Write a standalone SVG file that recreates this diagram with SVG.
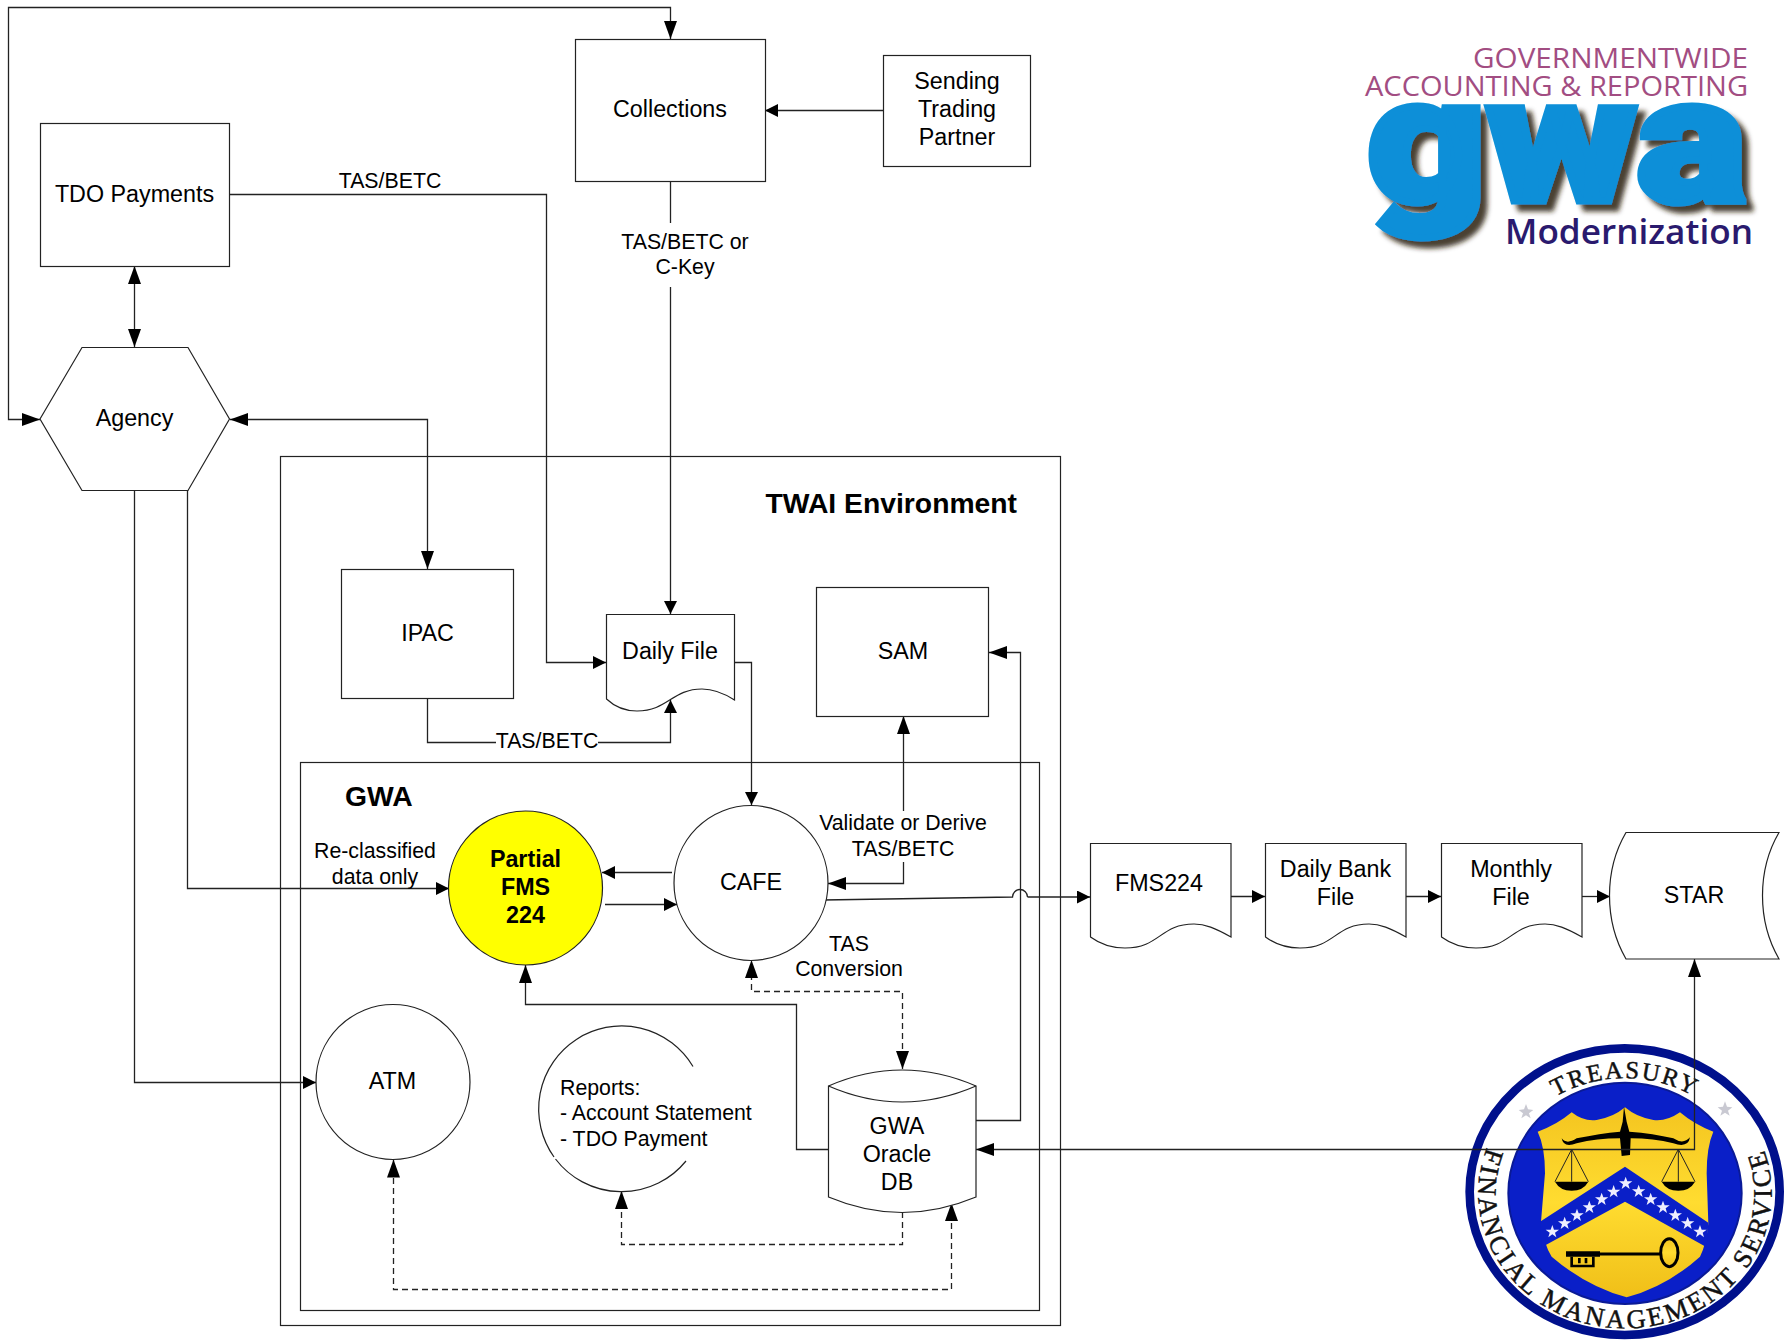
<svg xmlns="http://www.w3.org/2000/svg" xmlns:xlink="http://www.w3.org/1999/xlink" width="1785" height="1340" viewBox="0 0 1785 1340">
<style>
text{font-family:"Liberation Sans",Arial,sans-serif;fill:#000}
.n{font-size:23.300px;text-anchor:middle}
.e{font-size:21.300px;text-anchor:middle}
.s{font-size:21.300px}
.b{font-weight:bold}
.shape{fill:#fff;stroke:#222;stroke-width:1.2}
.none{fill:none}
.c{fill:none;stroke:#222;stroke-width:1.3}
.d{fill:none;stroke:#222;stroke-width:1.3;stroke-dasharray:6 4}
.big{marker-end:url(#ab)}
.small{marker-end:url(#as)}
.seal text{font-family:"Liberation Serif","Times New Roman",serif;fill:#111;stroke:#111;stroke-width:1.4}
</style>
<defs>
<marker id="ab" markerUnits="userSpaceOnUse" markerWidth="19" markerHeight="14" refX="18" refY="6.5" orient="auto-start-reverse"><path d="M0,0L18,6.5L0,13Z" fill="#000"/></marker>
<marker id="as" markerUnits="userSpaceOnUse" markerWidth="14" markerHeight="14" refX="13" refY="6.5" orient="auto-start-reverse"><path d="M0,0L13,6.5L0,13Z" fill="#000"/></marker>
<filter id="sh" x="-10%" y="-10%" width="125%" height="125%"><feDropShadow dx="7" dy="7" stdDeviation="2.500" flood-color="#2a1a10" flood-opacity=".85"/></filter>
<linearGradient id="gold" x1="0" y1="0" x2="0" y2="1"><stop offset="0" stop-color="#f4c520"/><stop offset=".5" stop-color="#ffdc30"/><stop offset="1" stop-color="#f0bf18"/></linearGradient>
<polygon id="st" points="0,-20 5,-6 20,-6 8,3 12,17 0,8 -12,17 -8,3 -20,-6 -5,-6" fill="#eef"/>
<path id="treasuryArc" d="M170,490 A385,345 0 0 1 940,490"/>
<path id="fmsArc" d="M166.400,300 A440,405 0 1 0 943.600,300"/>
</defs>
<rect width="1785" height="1340" fill="#fff"/>

<g id="logo">
<text x="1473" y="68" font-size="28" textLength="275" lengthAdjust="spacingAndGlyphs" style="font-family:'Open Sans',sans-serif;fill:#a24d82">GOVERNMENTWIDE</text>
<text x="1365" y="96" font-size="28" textLength="383" lengthAdjust="spacingAndGlyphs" style="font-family:'Open Sans',sans-serif;fill:#a24d82">ACCOUNTING &amp; REPORTING</text>
<text x="1367" y="201" font-size="176" font-weight="900" textLength="380" lengthAdjust="spacingAndGlyphs" filter="url(#sh)" stroke="#0a8fd8" stroke-width="7" style="font-family:Roboto,sans-serif;fill:#0a8fd8">gwa</text>
<text x="1505" y="244" font-size="35" textLength="248" lengthAdjust="spacingAndGlyphs" style="font-family:'Open Sans',sans-serif;fill:#2a1a6e;font-weight:600">Modernization</text>
</g>

<g id="seal" class="seal" transform="translate(1440,1030) scale(.33333)">
<ellipse cx="554" cy="485" rx="465" ry="430" fill="#fff" stroke="#00108c" stroke-width="26"/>
<ellipse cx="555" cy="490" rx="350" ry="332" fill="#0a1fc8" stroke="#0a1a96" stroke-width="6"/>
<path d="M293,305 Q350,285 395,247 Q430,275 470,270 Q520,262 555,232 Q590,262 640,270 Q680,275 720,247 Q765,285 820,305 Q800,350 800,430 L805,580 Q800,640 780,680 Q680,770 560,802 Q440,770 335,680 Q310,640 303,575 L315,430 Q315,350 293,305Z" fill="url(#gold)"/>
<path d="M555,410 L805,578 L800,652 L555,515 L305,652 L300,575Z" fill="#0a1fc8"/>
<path d="M365,325 Q380,345 410,325 Q480,310 540,305 L548,275 L552,230 L560,275 L568,305 Q640,310 700,325 Q730,345 750,322 Q745,355 700,340 Q640,325 572,325 L570,375 L545,378 L540,325 Q470,325 410,340 Q370,355 365,325Z" fill="#000"/>
<g fill="none" stroke="#222" stroke-width="3"><path d="M395,358 L345,455 M395,358 L395,455 M395,358 L445,455"/><path d="M715,358 L665,455 M715,358 L715,455 M715,358 L765,455"/></g>
<path d="M345,455 L445,455 Q430,482 395,482 Q360,482 345,455Z M665,455 L765,455 Q750,482 715,482 Q680,482 665,455Z" fill="#000"/>
<g fill="none" stroke="#000"><path d="M470,672 L660,672" stroke-width="9"/><ellipse cx="688" cy="668" rx="26" ry="42" stroke-width="9" fill="url(#gold)"/><path d="M378,672 L480,672" stroke-width="16"/><path d="M395,680 V708 H460 V680 M418,684 V700 M438,684 V700" stroke-width="8"/></g>
<use href="#st" x="337" y="605"/><use href="#st" x="374" y="580"/><use href="#st" x="411" y="556"/><use href="#st" x="448" y="532"/><use href="#st" x="485" y="508"/><use href="#st" x="521" y="485"/><use href="#st" x="557" y="460"/><use href="#st" x="596" y="484"/><use href="#st" x="632" y="508"/><use href="#st" x="669" y="532"/><use href="#st" x="706" y="556"/><use href="#st" x="743" y="580"/><use href="#st" x="780" y="605"/>
<polygon points="258,222 264,238 280,240 267,250 272,265 258,256 244,265 249,250 236,240 252,238" fill="#c9c9d2"/>
<polygon points="855,214 861,230 877,232 864,242 869,257 855,248 841,257 846,242 833,232 849,230" fill="#c9c9d2"/>
<text font-size="74" text-anchor="middle" letter-spacing="6"><textPath href="#treasuryArc" startOffset="50%">TREASURY</textPath></text>
<text font-size="80" text-anchor="middle" letter-spacing="8.500"><textPath href="#fmsArc" startOffset="50%">FINANCIAL MANAGEMENT SERVICE</textPath></text>
</g>

<g id="twai"><rect x="280.500" y="456.500" width="780" height="869" class="shape none"/><text x="765.500" y="513" font-size="28.300" class="b">TWAI Environment</text></g>
<g id="gwa"><rect x="300.500" y="762.500" width="739" height="548" class="shape none"/><text x="345" y="806" font-size="28.300" class="b">GWA</text></g>

<g id="connectors">
<path class="c big" d="M40,419.500 H8.500 V7.500 H670.500 V39" style="marker-start:url(#ab)"/>
<path class="c big" d="M134.500,266 V347" style="marker-start:url(#ab)"/>
<path class="c small" d="M883,110.500 H765"/>
<path class="c" d="M670.500,182 V223"/>
<path class="c small" d="M670.500,287 V614"/>
<path class="c small" d="M230,194.500 H546.500 V662.500 H606"/>
<path class="c big" d="M230,419.500 H427.500 V569" style="marker-start:url(#ab)"/>
<path class="c" d="M427.500,699 V742.500 H496"/>
<path class="c small" d="M598,742.500 H670.500 V700"/>
<path class="c small" d="M734,662.500 H751.500 V805"/>
<path class="c small" d="M187.500,490 V888.500 H449"/>
<path class="c small" d="M134.500,490 V1082.500 H316"/>
<path class="c small" d="M672,872.500 H602"/>
<path class="c small" d="M605,904.500 H677"/>
<path class="c big" d="M903.500,811 V716"/>
<path class="c big" d="M903.500,862 V883.500 H828"/>
<path class="c" d="M823,900 L1012.500,897 A7.500,7.500 0 0 1 1027.500,897"/>
<path class="c small" d="M1027.500,897 H1090"/>
<path class="c small" d="M1231,896.500 H1265"/>
<path class="c small" d="M1406,896.500 H1441"/>
<path class="c small" d="M1582,896.500 H1610"/>
<path class="c big" d="M976,1120.500 H1020.500 V652.500 H989"/>
<path class="c big" d="M828,1149.500 H796.500 V1004.500 H525.500 V965"/>
<path class="c big" d="M1694.500,959 V1149.500 H976" style="marker-start:url(#ab)"/>
<path class="d big" d="M902.500,1069 V991.500 H751.500 V960" style="marker-start:url(#ab)"/>
<path class="d big" d="M902.500,1212 V1244.500 H621.500 V1191"/>
<path class="d big" d="M951.500,1203 V1289.500 H393.500 V1159.500" style="marker-start:url(#ab)"/>
</g>

<g id="collections"><rect x="575.500" y="39.500" width="190" height="142" class="shape"/><text x="670" y="117" class="n">Collections</text></g>
<g id="sending"><rect x="883.500" y="55.500" width="147" height="111" class="shape"/><text class="n"><tspan x="957" y="89">Sending</tspan><tspan x="957" y="117">Trading</tspan><tspan x="957" y="145">Partner</tspan></text></g>
<g id="tdo"><rect x="40.500" y="123.500" width="189" height="143" class="shape"/><text x="134.500" y="202" class="n">TDO Payments</text></g>
<g id="agency"><polygon points="40,419 82,347.500 188,347.500 229.500,419 188,490.500 82,490.500" class="shape"/><text x="134.500" y="426" class="n">Agency</text></g>
<g id="ipac"><rect x="341.500" y="569.500" width="172" height="129" class="shape"/><text x="427.500" y="641" class="n">IPAC</text></g>
<g id="dailyfile"><path d="M606.500,614.500 H734.500 V700 C722,692 712,689 702,689 C672,689 668,711 637,711 C625,711 615,707 606.500,699 Z" class="shape"/><text x="670" y="659" class="n">Daily File</text></g>
<g id="sam"><rect x="816.500" y="587.500" width="172" height="129" class="shape"/><text x="903" y="659" class="n">SAM</text></g>
<g id="partial"><circle cx="525.500" cy="888" r="77" fill="#ff0" stroke="#222" stroke-width="1.200"/><text class="n b"><tspan x="525.500" y="867">Partial</tspan><tspan x="525.500" y="895">FMS</tspan><tspan x="525.500" y="922.500">224</tspan></text></g>
<g id="cafe"><ellipse cx="751" cy="883" rx="77" ry="77.500" class="shape"/><text x="751" y="890" class="n">CAFE</text></g>
<g id="atm"><ellipse cx="393" cy="1082" rx="77" ry="77.500" class="shape"/><text x="392.500" y="1089" class="n">ATM</text></g>
<g id="reports"><path d="M686,1161 A83,83 0 0 1 555.500,1159 M554,1157 A83,83 0 1 1 693,1066.500" class="shape none"/><text class="s"><tspan x="560" y="1095">Reports:</tspan><tspan x="560" y="1120">- Account Statement</tspan><tspan x="560" y="1146">- TDO Payment</tspan></text></g>
<g id="db"><path d="M828.500,1086 Q902,1054 976,1086 V1197 Q902,1228 828.500,1197 Z" class="shape"/><path d="M828.500,1086 Q902,1118 976,1086" class="shape none"/><text class="n"><tspan x="897" y="1134">GWA</tspan><tspan x="897" y="1161.500">Oracle</tspan><tspan x="897" y="1189.500">DB</tspan></text></g>
<g id="fms224"><path d="M1090.500,843.500 H1231 V937 C1215,928 1205,924 1194,924 C1160,924 1160,948 1125,948 C1110,948 1100,944 1090.500,937 Z" class="shape"/><text x="1159" y="891" class="n">FMS224</text></g>
<g id="dailybank"><path d="M1265.500,843.500 H1406 V937 C1390,928 1380,924 1369,924 C1335,924 1335,948 1300,948 C1285,948 1275,944 1265.500,937 Z" class="shape"/><text class="n"><tspan x="1335.500" y="877">Daily Bank</tspan><tspan x="1335.500" y="905">File</tspan></text></g>
<g id="monthly"><path d="M1441.500,843.500 H1582 V937 C1566,928 1556,924 1545,924 C1511,924 1511,948 1476,948 C1461,948 1451,944 1441.500,937 Z" class="shape"/><text class="n"><tspan x="1511" y="877">Monthly</tspan><tspan x="1511" y="905">File</tspan></text></g>
<g id="star"><path d="M1626,832.500 H1779 C1757,870 1757,921 1779,959 H1626 C1604,921 1604,870 1626,832.500 Z" class="shape"/><text x="1694" y="903" class="n">STAR</text></g>

<g id="labels">
<text x="390" y="188" class="e">TAS/BETC</text>
<text class="e"><tspan x="685" y="249">TAS/BETC or</tspan><tspan x="685" y="274">C-Key</tspan></text>
<text x="547" y="748" class="e">TAS/BETC</text>
<text class="e"><tspan x="375" y="858">Re-classified</tspan><tspan x="375" y="884">data only</tspan></text>
<text class="e"><tspan x="903" y="830">Validate or Derive</tspan><tspan x="903" y="856">TAS/BETC</tspan></text>
<text class="e"><tspan x="849" y="951">TAS</tspan><tspan x="849" y="976">Conversion</tspan></text>
</g>
</svg>
